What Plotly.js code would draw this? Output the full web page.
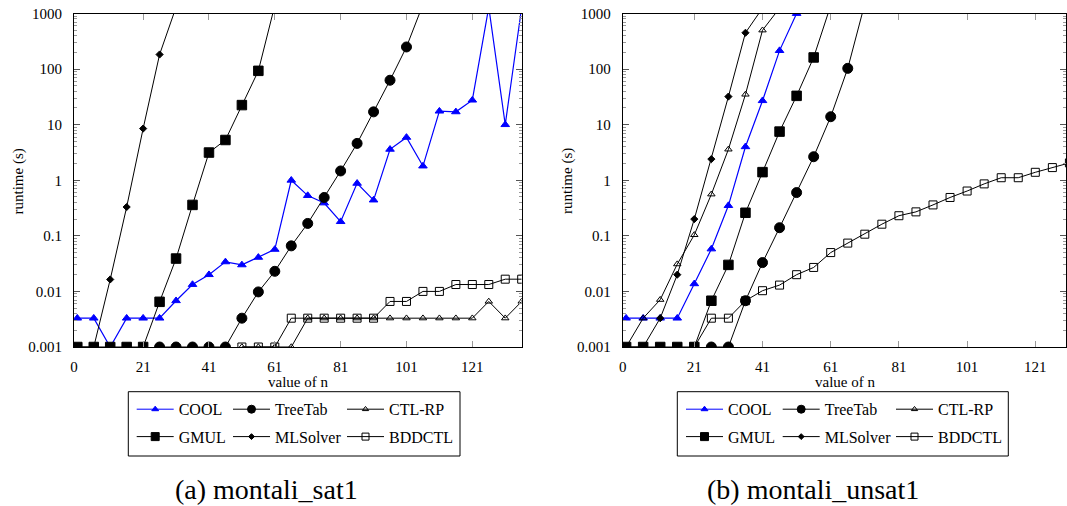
<!DOCTYPE html>
<html><head><meta charset="utf-8">
<script src="https://cdn.plot.ly/plotly-3.0.1.min.js"></script>
<style>html,body{margin:0;padding:0;background:#fff}#chart{width:1067px;height:506px}</style>
</head><body><div id="chart"></div>
<script>
// ---- data ----
const nSat = [1,6,11,16,21,26,31,36,41,46,51,56,61,66,71,76,81,86,91,96,101,106,111,116,121,126,131,136];
const nUnsat = [1,6,11,16,21,26,31,36,41,46,51,56,61,66,71,76,81,86,91,96,101,106,111,116,121,126,131];
const xTicks = [0,21,41,61,81,101,121];
const seriesNames = ['COOL','TreeTab','CTL-RP','GMUL','MLSolver','BDDCTL'];

// montali_sat1 (runtime in s)
const coolSat = [0.0033,0.0033,0.001,0.0033,0.0033,0.0033,0.0068,0.0133,0.02,0.034,0.030,0.041,0.057,1.0,0.53,0.39,0.18,0.88,0.44,3.6,5.9,1.8,17.5,17,27.6,1300,10,1300];
const treeTabSat = [0.001,0.001,0.001,0.001,0.001,0.0033,0.0098,0.023,0.066,0.167,0.49,1.47,4.6,17,63,250,1450];
const ctlrpSat = [0.001,0.001,0.001,0.001,0.0033,0.0033,0.0033,0.0033,0.0033,0.0033,0.0033,0.0033,0.0033,0.0033,0.0033,0.0066,0.0033,0.0066];
const gmulSat = [0.001,0.001,0.001,0.001,0.001,0.0065,0.039,0.36,3.15,5.3,22.5,93,1400];
const mlsolverSat = [0.001,0.001,0.0164,0.33,8.5,183,1300];
const bddctlSat = [0.001,0.001,0.001,0.0033,0.0033,0.0033,0.0033,0.0033,0.0033,0.0066,0.0066,0.01,0.01,0.0133,0.0133,0.0133,0.0166,0.0166];
const startSat = [1,26,51,1,1,51];

// montali_unsat1 (runtime in s)
const coolUnsat = [0.0033,0.0033,0.0033,0.0033,0.0137,0.058,0.35,4.0,27,215,1000];
const treeTabUnsat = [0.001,0.001,0.0068,0.033,0.14,0.6,2.65,13.9,103,1500];
const ctlrpUnsat = [0.001,0.0033,0.0071,0.031,0.104,0.56,3.6,35,500,1250];
const gmulUnsat = [0.001,0.001,0.001,0.001,0.001,0.0068,0.030,0.26,1.4,7.5,33,162,1400];
const mlsolverUnsat = [0.001,0.001,0.0033,0.02,0.2,2.4,32,450,1250];
const bddctlUnsat = [0.001,0.0033,0.0033,0.0068,0.0103,0.013,0.02,0.027,0.05,0.074,0.107,0.162,0.23,0.27,0.36,0.49,0.64,0.86,1.11,1.11,1.39,1.69,2.05];
const startUnsat = [1,26,1,1,1,21];

// ---- styles ----
const FONT = 'Liberation Serif';
const W = 1067, H = 506;
const styles = [
  {color:'#0000ff', symbol:'triangle-up', size:7.5, lw:1.2, lsize:6},
  {color:'#000000', symbol:'circle', size:10, lw:1, lsize:8},
  {color:'#000000', symbol:'triangle-up-open', size:6.5, lw:1, lsize:5.5},
  {color:'#000000', symbol:'square', size:9.5, lw:1, lsize:8},
  {color:'#000000', symbol:'diamond', size:5.5, lw:1, lsize:4.5},
  {color:'#000000', symbol:'square-open', size:8, lw:1, lsize:7}
];

function xFrom(nArr, start, len){ const i = nArr.indexOf(start); return nArr.slice(i, i+len); }

const satSeries = [coolSat, treeTabSat, ctlrpSat, gmulSat, mlsolverSat, bddctlSat];
const unsatSeries = [coolUnsat, treeTabUnsat, ctlrpUnsat, gmulUnsat, mlsolverUnsat, bddctlUnsat];

const traces = [];
function addPanel(series, nArr, starts, xa, ya){
  series.forEach((vals, k) => {
    const s = styles[k];
    traces.push({
      type:'scatter', mode:'lines+markers', name:seriesNames[k],
      x: xFrom(nArr, starts[k], vals.length), y: vals,
      xaxis:xa, yaxis:ya, showlegend:false, cliponaxis:true,
      line:{color:s.color, width:s.lw},
      marker:{symbol:s.symbol, size:s.size, color:s.color, line:{color:s.color, width:1}}
    });
  });
}
addPanel(satSeries, nSat, startSat, 'x', 'y');
addPanel(unsatSeries, nUnsat, startUnsat, 'x2', 'y2');

// ---- legends (one entry per legend, laid out as 3 columns x 2 rows) ----
const legColsLeft = [136.7, 233, 347];
const legColsRight = [686, 782.7, 896];
const legRows = [409.3, 436.7];
const layoutLegends = {};
let legIdx = 0;
function addLegends(cols, xa, ya){
  seriesNames.forEach((nm, k) => {
    legIdx++;
    const id = legIdx === 1 ? 'legend' : 'legend' + legIdx;
    const s = styles[k];
    const col = k % 3, row = Math.floor(k / 3);
    traces.push({
      type:'scatter', mode:'lines+markers', name:nm, x:[null], y:[null],
      xaxis:xa, yaxis:ya, legend:id, showlegend:true,
      line:{color:s.color, width:1},
      marker:{symbol:s.symbol, size:s.lsize, color:s.color, line:{color:s.color, width:1}}
    });
    layoutLegends[id] = {
      x:(cols[col]-5)/W, xanchor:'left', y:(H-legRows[row])/H, yanchor:'middle',
      orientation:'h', bgcolor:'rgba(0,0,0,0)', borderwidth:0, itemwidth:37,
      font:{family:FONT, size:16, color:'#000'}
    };
  });
}
addLegends(legColsLeft, 'x', 'y');
addLegends(legColsRight, 'x2', 'y2');

const yDom = [(H-347)/H, (H-13.5)/H];
function xAxis(dom, range){
  return {domain:dom, range:range, tickmode:'array', tickvals:xTicks, ticktext:xTicks.map(String),
    ticks:'inside', ticklen:6, tickcolor:'#999', tickwidth:1, mirror:'ticks',
    showline:true, linecolor:'#000', linewidth:1, showgrid:false, zeroline:false,
    ticklabelstandoff:6, tickfont:{family:FONT, size:15, color:'#000'}, fixedrange:true};
}
function yAxis(anchor){
  return {domain:yDom, type:'log', range:[-3,3], dtick:1, exponentformat:'none', anchor:anchor,
    ticks:'inside', ticklen:6, tickcolor:'#555', tickwidth:1, mirror:'ticks',
    minor:{dtick:'D1', ticks:'inside', ticklen:3, tickcolor:'#999', tickwidth:1, showgrid:false},
    showline:true, linecolor:'#000', linewidth:1, showgrid:false, zeroline:false,
    ticklabelstandoff:8, tickfont:{family:FONT, size:15, color:'#000'}, fixedrange:true};
}

const layout = Object.assign({
  width:W, height:H, margin:{l:0, r:0, t:0, b:0},
  paper_bgcolor:'#fff', plot_bgcolor:'#fff',
  font:{family:FONT, size:15, color:'#000'},
  xaxis: xAxis([74/W, 521.7/W], [0,136]),
  yaxis: yAxis('x'),
  xaxis2: xAxis([622.7/W, 1066/W], [0,130]),
  yaxis2: yAxis('x2'),
  shapes:[
    {type:'rect', xref:'paper', yref:'paper', x0:128.3/W, x1:460/W, y0:(H-456)/H, y1:(H-391.7)/H, line:{color:'#000', width:1}},
    {type:'rect', xref:'paper', yref:'paper', x0:677.3/W, x1:1008.3/W, y0:(H-456)/H, y1:(H-391.7)/H, line:{color:'#000', width:1}}
  ],
  annotations:[
    {text:'runtime (s)', xref:'paper', yref:'paper', x:18/W, y:(H-181.5)/H, textangle:-90, showarrow:false, xanchor:'center', yanchor:'middle', font:{family:FONT, size:15}},
    {text:'runtime (s)', xref:'paper', yref:'paper', x:567.5/W, y:(H-181.5)/H, textangle:-90, showarrow:false, xanchor:'center', yanchor:'middle', font:{family:FONT, size:15}},
    {text:'value of n', xref:'paper', yref:'paper', x:298/W, y:(H-381.5)/H, showarrow:false, xanchor:'center', yanchor:'middle', font:{family:FONT, size:15}},
    {text:'value of n', xref:'paper', yref:'paper', x:844.5/W, y:(H-381.5)/H, showarrow:false, xanchor:'center', yanchor:'middle', font:{family:FONT, size:15}},
    {text:'(a) montali_sat1', xref:'paper', yref:'paper', x:266/W, y:(H-489)/H, showarrow:false, xanchor:'center', yanchor:'middle', font:{family:FONT, size:28}},
    {text:'(b) montali_unsat1', xref:'paper', yref:'paper', x:813/W, y:(H-489)/H, showarrow:false, xanchor:'center', yanchor:'middle', font:{family:FONT, size:28}}
  ]
}, layoutLegends);

Plotly.newPlot('chart', traces, layout, {displayModeBar:false, staticPlot:true});
</script>
</body></html>
